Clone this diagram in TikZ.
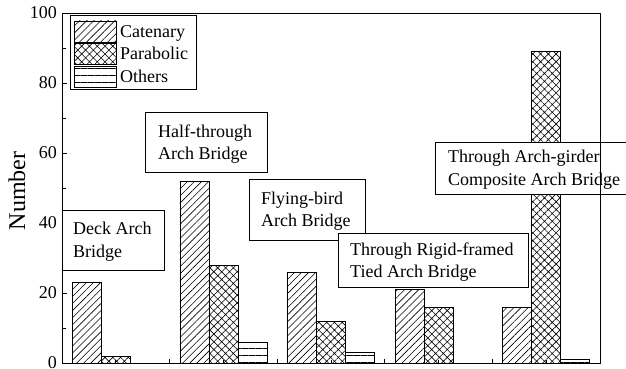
\documentclass[tikz,border=0pt]{standalone}
\usepackage{fontspec}
\setmainfont{Liberation Serif}
\usetikzlibrary{patterns.meta}
\begin{document}
\begin{tikzpicture}[x=1pt,y=-1pt,
  bar/.style={draw=black, line width=0.8pt},
  catbar/.style={bar, pattern={Lines[angle=45,distance=5pt,line width=0.6pt]}},
  parbar/.style={bar, pattern={Hatch[angle=45,distance=5.5pt,line width=0.6pt]}},
  othbar/.style={bar, pattern={Lines[angle=0,distance=7pt,line width=0.6pt]}},
  lbl/.style={font=\fontsize{18}{22.5}\selectfont, inner sep=0pt},
  tbox/.style={draw=black, fill=white, line width=0.8pt, inner sep=0pt, anchor=north west},
  btext/.style={font=\fontsize{18}{22.5}\selectfont, align=left, inner sep=0pt, anchor=west, yshift=-1.5pt},
  tick/.style={line width=0.8pt},
]
\useasboundingbox (0,0) rectangle (626,369);

% bars
\foreach \i/\a/\b/\c in {0/23/2/0, 1/52/28/6, 2/26/12/3, 3/21/16/0, 4/16/89/1} {
  \pgfmathsetmacro\cx{62+107.6*(\i+0.5)}
  \draw[catbar] (\cx-43.5,363) rectangle (\cx-14.5,363-3.5*\a);
  \draw[parbar] (\cx-14.5,363) rectangle (\cx+14.5,363-3.5*\b);
  \ifnum\c>0
    \draw[othbar] (\cx+14.5,363) rectangle (\cx+43.5,363-3.5*\c);
  \fi
}

% y ticks and labels
\foreach \v in {0,20,...,100} {
  \draw[tick] (62,363-3.5*\v) -- (67,363-3.5*\v);
  \node[lbl, anchor=east] (yl\v) at (57,363-3.5*\v) {\v};
}
\foreach \v in {10,30,...,90} {
  \draw[tick] (62,363-3.5*\v) -- (66,363-3.5*\v);
}
% x ticks
\foreach \k in {1,...,4} {
  \draw[tick] (62+107.6*\k,363) -- ++(0,-4);
}
\foreach \k in {0,...,4} {
  \draw[tick] (62+107.6*\k+53.8,363) -- ++(0,-3);
}

% axis label
\node[font=\fontsize{24}{28}\selectfont, rotate=90, inner sep=0pt] (ylabel) at (17,191) {Number};

% legend
\node[tbox, minimum width=126pt, minimum height=74pt] (legend) at (70,15) {};
\draw[catbar] (74,21) rectangle (116,42);
\draw[parbar] (74,43) rectangle (116,64);
\draw[othbar] (74,66) rectangle (116,87);
\node[lbl, anchor=base west] (lcat) at (120,37.2) {Catenary};
\node[lbl, anchor=base west] (lpar) at (120,59.5) {Parabolic};
\node[lbl, anchor=base west] (loth) at (120,82.5) {Others};

% annotation boxes
\node[tbox, minimum width=102pt, minimum height=60pt] (deck) at (62,210) {};
\node[btext] (deckt) at ([xshift=11pt]deck.west) {Deck Arch\\Bridge};

\node[tbox, minimum width=122pt, minimum height=60pt] (half) at (145,112) {};
\node[btext] (halft) at ([xshift=13pt]half.west) {Half-through\\Arch Bridge};

\node[tbox, minimum width=116pt, minimum height=61pt] (fly) at (249,179) {};
\node[btext] (flyt) at ([xshift=12pt]fly.west) {Flying-bird\\Arch Bridge};

\node[tbox, minimum width=190pt, minimum height=54pt] (rigid) at (338,233) {};
\node[btext] (rigidt) at ([xshift=12pt]rigid.west) {Through Rigid-framed\\Tied Arch Bridge};

\node[tbox, minimum width=225pt, minimum height=52pt] (girder) at (435,142) {};
\node[btext] (girdert) at ([xshift=13pt]girder.west) {Through Arch-girder\\Composite Arch Bridge};

% axis frame
\draw[line width=0.8pt] (62,13) rectangle (600,363);
\end{tikzpicture}
\end{document}
